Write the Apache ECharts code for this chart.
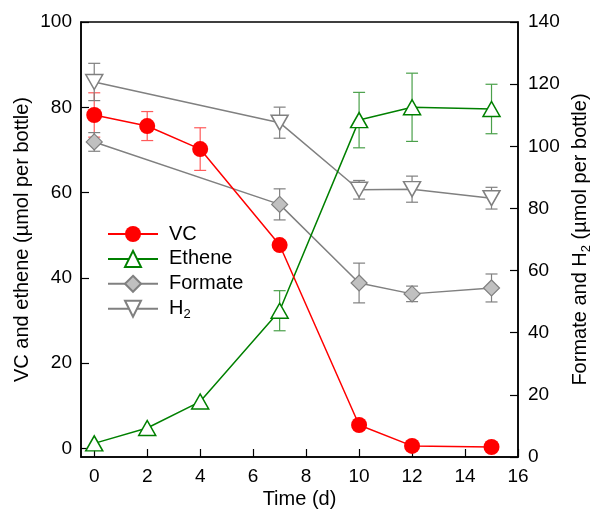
<!DOCTYPE html>
<html><head><meta charset="utf-8">
<script src="https://cdn.jsdelivr.net/npm/echarts@6/dist/echarts.min.js"></script>
<style>html,body{margin:0;padding:0;background:#fff}#c{width:590px;height:512px}</style>
</head><body><div id="c"></div>
<script>
var days = [0, 2, 4, 7, 10, 12, 15];
var vc = [78.2, 75.6, 70.2, 47.7, 5.5, 0.6, 0.35];
var vcErr = [5.2, 3.4, 5.0, 0, 0, 0, 0];
var ethene = [1.2, 4.8, 11, 32.3, 77, 80, 79.6];
var etheneErr = [0, 0, 0, 4.7, 6.5, 8, 5.8];
var formateDays = [0, 7, 10, 12, 15];
var formate = [101.4, 81.3, 56, 52.5, 54.4];
var formateErr = [3, 5, 6.4, 2.5, 4.5];
var h2Days = [0, 7, 10, 12, 15];
var h2 = [120.7, 107.6, 86, 86.2, 83.3];
var h2Err = [6, 5, 3, 4.2, 3.5];
var leftTicks = [0, 20, 40, 60, 80, 100];
var xTicks = [0, 2, 4, 6, 8, 10, 12, 14, 16];

var FONT = 'Liberation Sans, Arial, sans-serif';

function pts(xs, ys) { return xs.map(function (x, i) { return [x, ys[i]]; }); }
function errData(xs, ys, es) {
  var out = [];
  xs.forEach(function (x, i) { if (es[i] > 0) out.push([x, ys[i] - es[i], ys[i] + es[i]]); });
  return out;
}
function errSeries(xs, ys, es, yIdx, color) {
  return {
    type: 'custom', yAxisIndex: yIdx, z: 1, silent: true,
    data: errData(xs, ys, es),
    renderItem: function (params, api) {
      var lo = api.coord([api.value(0), api.value(1)]);
      var hi = api.coord([api.value(0), api.value(2)]);
      var w = 6;
      var st = { stroke: color, lineWidth: 1.2 };
      return { type: 'group', children: [
        { type: 'line', shape: { x1: hi[0], y1: hi[1], x2: lo[0], y2: lo[1] }, style: st },
        { type: 'line', shape: { x1: hi[0] - w, y1: hi[1], x2: hi[0] + w, y2: hi[1] }, style: st },
        { type: 'line', shape: { x1: lo[0] - w, y1: lo[1], x2: lo[0] + w, y2: lo[1] }, style: st }
      ]};
    }
  };
}

var chart = echarts.init(document.getElementById('c'), null, { renderer: 'canvas' });
var axisFont = { fontFamily: FONT, fontSize: 19, color: '#000' };
var nameFont = { fontFamily: FONT, fontSize: 20, color: '#000' };
var subRich = { sub: { fontSize: 13, fontFamily: FONT, color: '#000', padding: [12, 0, 0, 0], verticalAlign: 'bottom' } };
chart.setOption({
  animation: false,
  textStyle: { fontFamily: FONT },
  grid: { left: 81, right: 72, top: 22, bottom: 55, outerBoundsMode: 'none', containLabel: false, show: true, borderColor: '#000', borderWidth: 1.5, backgroundColor: 'transparent' },
  legend: {
    orient: 'vertical', left: 107, top: 224, padding: 0, itemWidth: 50, itemHeight: 20, itemGap: 4.9,
    textStyle: { fontFamily: FONT, fontSize: 20, color: '#000', padding: [0, 0, 0, 6], rich: subRich },
    formatter: function (n) { return n === 'H2' ? 'H{sub|2}' : n; },
    data: ['VC', 'Ethene', 'Formate', 'H2']
  },
  xAxis: {
    type: 'value', min: -0.5, max: 16,
    name: 'Time (d)', nameLocation: 'middle', nameGap: 32, nameMoveOverlap: false,
    nameTextStyle: nameFont,
    axisLine: { onZero: false, lineStyle: { color: '#000', width: 1.5 } },
    axisTick: { inside: true, length: 8, customValues: xTicks, lineStyle: { color: '#000', width: 1.2 } },
    axisLabel: Object.assign({ customValues: xTicks, margin: 10 }, axisFont),
    splitLine: { show: false }
  },
  yAxis: [{
    type: 'value', min: -2, max: 100,
    name: 'VC and ethene (µmol per bottle)', nameLocation: 'middle', nameGap: 49, nameRotate: 90, nameMoveOverlap: false,
    nameTextStyle: nameFont,
    axisLine: { show: true, onZero: false, lineStyle: { color: '#000', width: 1.5 } },
    axisTick: { show: true, inside: true, length: 8, customValues: leftTicks, lineStyle: { color: '#000', width: 1.2 } },
    axisLabel: Object.assign({ customValues: leftTicks, margin: 9 }, axisFont),
    splitLine: { show: false }
  }, {
    type: 'value', min: 0, max: 140, interval: 20, position: 'right',
    name: 'Formate and H{sub|2} (µmol per bottle)', nameLocation: 'middle', nameGap: 50, nameRotate: 90, nameMoveOverlap: false,
    nameTextStyle: Object.assign({ rich: subRich }, nameFont),
    axisLine: { show: true, onZero: false, lineStyle: { color: '#000', width: 1.5 } },
    axisTick: { show: true, inside: true, length: 8, lineStyle: { color: '#000', width: 1.2 } },
    axisLabel: Object.assign({ margin: 10 }, axisFont),
    splitLine: { show: false }
  }],
  series: [
    errSeries(days, vc, vcErr, 0, '#ff5a5a'),
    errSeries(days, ethene, etheneErr, 0, '#4aa04a'),
    errSeries(formateDays, formate, formateErr, 1, '#808080'),
    errSeries(h2Days, h2, h2Err, 1, '#808080'),
    { name: 'H2', type: 'line', yAxisIndex: 1, data: pts(h2Days, h2), z: 3,
      symbol: 'triangle', symbolRotate: 180, symbolSize: [17, 15],
      lineStyle: { color: '#808080', width: 1.5 },
      itemStyle: { color: '#fff', borderColor: '#808080', borderWidth: 1.5 } },
    { name: 'Formate', type: 'line', yAxisIndex: 1, data: pts(formateDays, formate), z: 3,
      symbol: 'diamond', symbolSize: [16, 16],
      lineStyle: { color: '#808080', width: 1.5 },
      itemStyle: { color: '#c0c0c0', borderColor: '#808080', borderWidth: 1.2 } },
    { name: 'Ethene', type: 'line', yAxisIndex: 0, data: pts(days, ethene), z: 4,
      symbol: 'triangle', symbolSize: [17, 15],
      lineStyle: { color: '#008000', width: 1.5 },
      itemStyle: { color: '#fff', borderColor: '#008000', borderWidth: 1.5 } },
    { name: 'VC', type: 'line', yAxisIndex: 0, data: pts(days, vc), z: 5,
      symbol: 'circle', symbolSize: 16,
      lineStyle: { color: '#ff0000', width: 1.5 },
      itemStyle: { color: '#ff0000', borderColor: '#ff0000', borderWidth: 0 } }
  ]
});
</script></body></html>
